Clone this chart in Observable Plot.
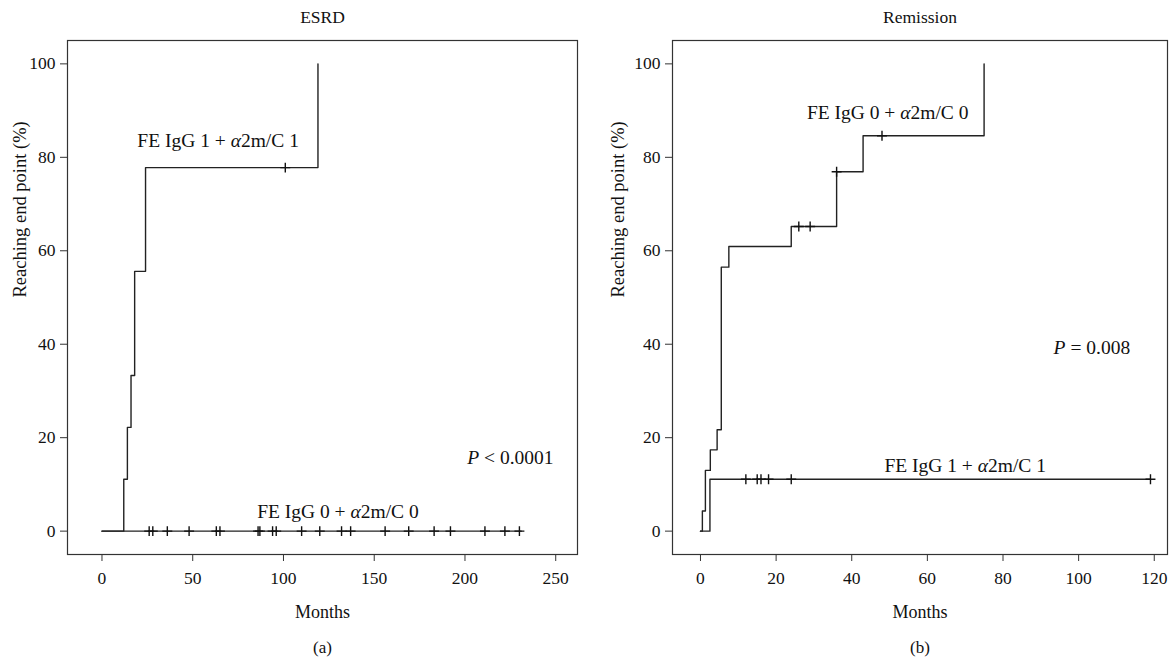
<!DOCTYPE html>
<html><head><meta charset="utf-8">
<script src="https://cdn.jsdelivr.net/npm/d3@7"></script>
<script src="https://cdn.jsdelivr.net/npm/@observablehq/plot@0.6"></script>
<style>
body{margin:0;background:#fff;}
#wrap{display:flex;width:1170px;height:666px;}
svg text{font-family:"Liberation Serif","DejaVu Serif",serif;}
</style></head><body><div id="wrap"></div>
<script>
// ---- ESRD panel (a) ----
const esrdHighTimes = [0, 12, 14, 16, 18, 24, 119];
const esrdHighPct   = [0, 11.1, 22.2, 33.3, 55.6, 77.8, 100];
const esrdHighCensorTimes = [101];
const esrdHighCensorPct   = [77.8];
const esrdLowTimes = [0, 231];
const esrdLowPct   = [0, 0];
const esrdLowCensorTimes = [26, 28, 36, 48, 63, 65, 86, 87, 94, 96, 110, 120, 132, 137, 156, 169, 183, 192, 211, 222, 230];
// ---- Remission panel (b) ----
const remLowTimes = [0, 0.5, 1.3, 2.6, 4.4, 5.5, 7.5, 24, 36, 43, 75];
const remLowPct   = [0, 4.3, 13.0, 17.4, 21.7, 56.5, 60.9, 65.2, 76.9, 84.6, 100];
const remLowCensorTimes = [26, 29, 36, 48];
const remLowCensorPct   = [65.2, 65.2, 76.9, 84.6];
const remHighTimes = [0, 2.5, 119];
const remHighPct   = [0, 11.1, 11.1];
const remHighCensorTimes = [12, 15, 16, 18, 24, 119];
const remHighCensorPct   = [11.1, 11.1, 11.1, 11.1, 11.1, 11.1];
// ---- ticks & labels ----
const yTicks = [0, 20, 40, 60, 80, 100];
const esrdXTicks = [0, 50, 100, 150, 200, 250];
const remXTicks = [0, 20, 40, 60, 80, 100, 120];
const labelHigh = "FE IgG 1 + α2m/C 1";
const labelLow  = "FE IgG 0 + α2m/C 0";
const esrdAnnot = [
  {x: 64, y: 83.5, text: labelHigh},
  {x: 130, y: 4.1, text: labelLow},
  {x: 225, y: 15.6, text: "P < 0.0001"}
];
const remAnnot = [
  {x: 49.5, y: 89.5, text: labelLow},
  {x: 70, y: 13.9, text: labelHigh},
  {x: 103.5, y: 39.3, text: "P = 0.008"}
];

const zip = (ts, ps) => ts.map((t, i) => ({t, p: ps[i]}));

function panel(o) {
  return Plot.plot({
    width: 585, height: 666,
    marginTop: 40, marginBottom: 112, marginLeft: o.marginLeft, marginRight: o.marginRight,
    x: {domain: o.xDomain},
    y: {domain: [-5, 105]},
    style: {fontFamily: "Liberation Serif", fontSize: "17.5px", color: "#111", background: "white", overflow: "visible"},
    marks: [
      Plot.frame({stroke: "#333", strokeWidth: 1.2}),
      Plot.axisX({ticks: o.xTicks, tickSize: 7, tickPadding: 10, fontSize: 17.5, label: null, stroke: "#333"}),
      Plot.axisY({ticks: yTicks, tickSize: 7, tickPadding: 5, fontSize: 17.5, label: null, stroke: "#333"}),
      ...o.curves.map(c => Plot.line(c, {x: "t", y: "p", curve: "step-after", stroke: "#222", strokeWidth: 1.4})),
      Plot.dot(o.censors, {x: "t", y: "p", symbol: "plus", r: 3.3, stroke: "#111", strokeWidth: 1.4}),
      Plot.text(o.annot, {x: "x", y: "y", text: "text", fontSize: 19.5, fill: "#111"}),
      Plot.text([o.title], {frameAnchor: "top", dy: -30, fontSize: 17.5, fill: "#111"}),
      Plot.text(["Months"], {frameAnchor: "bottom", dy: 63, fontSize: 18, fill: "#111"}),
      Plot.text([o.tag], {frameAnchor: "bottom", dy: 98, fontSize: 17, fill: "#111"}),
      Plot.text(["Reaching end point (%)"], {frameAnchor: "left", rotate: -90, dx: -o.yLabelOffset, fontSize: 18.5, fill: "#111"})
    ]
  });
}

function italicize(svg) {
  svg.querySelectorAll("text").forEach(t => {
    if (t.children.length) return;
    const s = t.textContent;
    if (!/α|^P [<=]/.test(s)) return;
    t.textContent = "";
    let run = "", runIt = null;
    const flush = () => {
      if (!run) return;
      const sp = document.createElementNS("http://www.w3.org/2000/svg", "tspan");
      if (runIt) sp.setAttribute("font-style", "italic");
      sp.textContent = run;
      t.appendChild(sp);
      run = "";
    };
    [...s].forEach((c, i) => {
      const it = c === "α" || (i === 0 && c === "P");
      if (runIt !== null && it !== runIt) flush();
      runIt = it;
      run += c;
    });
    flush();
  });
}

const left = panel({
  marginLeft: 67, marginRight: 8, xDomain: [-19, 262], xTicks: esrdXTicks,
  title: "ESRD", tag: "(a)", yLabelOffset: 47,
  curves: [zip(esrdLowTimes, esrdLowPct), zip(esrdHighTimes, esrdHighPct)],
  censors: [...zip(esrdHighCensorTimes, esrdHighCensorPct), ...esrdLowCensorTimes.map(t => ({t, p: 0}))],
  annot: esrdAnnot
});
const right = panel({
  marginLeft: 87, marginRight: 3, xDomain: [-7.4, 123.5], xTicks: remXTicks,
  title: "Remission", tag: "(b)", yLabelOffset: 54,
  curves: [zip(remLowTimes, remLowPct), zip(remHighTimes, remHighPct)],
  censors: [...zip(remLowCensorTimes, remLowCensorPct), ...zip(remHighCensorTimes, remHighCensorPct)],
  annot: remAnnot
});
italicize(left); italicize(right);
document.getElementById("wrap").append(left, right);
</script></body></html>
